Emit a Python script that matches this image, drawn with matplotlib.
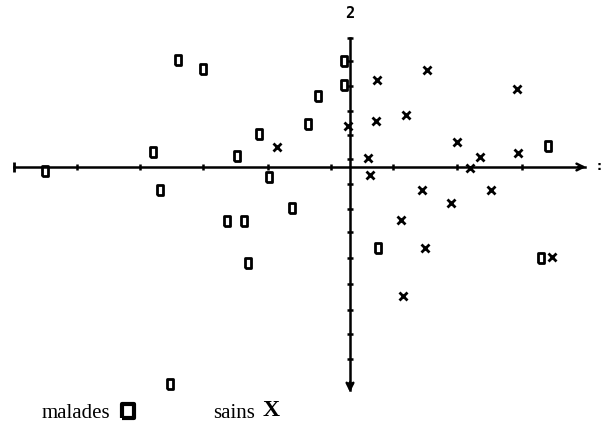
import numpy as np
import matplotlib
matplotlib.use('Agg')
from matplotlib import pyplot as plt

# malades (rectangles "0")
malades_x = [-4.80, -2.71, -2.31, -3.10, -2.99, -1.78, -1.43, -1.28, -0.91, -0.66,
             -0.50, -0.09, -0.09, 3.12, -1.94, -1.67, -1.61, -2.83, 0.44, 3.01]
malades_y = [-0.16, 4.28, 3.92, 0.60, -0.92, 0.44, 1.32, -0.40, -1.64, 1.72,
             2.84, 3.28, 4.24, 0.84, -2.16, -2.16, -3.84, -8.68, -3.24, -3.64]

# sains (croix "X")
sains_x = [-1.15, -0.03, 0.43, 0.41, 1.21, 0.88, 2.63, 1.69, 0.28, 0.31,
           2.05, 1.89, 2.65, 1.13, 1.59, 2.22, 0.80, 1.18, 0.83, 3.18]
sains_y = [0.80, 1.64, 3.48, 1.84, 3.88, 2.08, 3.12, 1.00, 0.36, -0.32,
           0.40, -0.04, 0.56, -0.92, -1.44, -0.92, -2.12, -3.24, -5.16, -3.60]

# graduations des axes
ticks_h = [-4.30, -3.31, -2.31, -1.29, -0.30, 0.68, 1.69, 2.71]
ticks_v = [4.24, 3.24, 2.24, 1.28, 0.32, -0.68, -1.68, -2.60, -3.64,
           -4.68, -5.72, -6.68, -7.68, -8.64]

fig = plt.figure(figsize=(6.02, 4.29), dpi=100)
ax = fig.add_axes([0, 0, 1, 1])
ax.set_xlim(-350 / 63.5, 252 / 63.5)
ax.set_ylim(-262 / 25, 167 / 25)
ax.axis('off')

# axes
ax.plot([-5.29, 3.70], [0, 0], color='black', lw=1.8)
ax.annotate('', xy=(3.76, 0), xytext=(3.55, 0),
            arrowprops=dict(arrowstyle='->', lw=1.8, color='black', mutation_scale=12))
ax.plot([0, 0], [5.16, -8.9], color='black', lw=1.8)
ax.annotate('', xy=(0, -9.12), xytext=(0, -8.5),
            arrowprops=dict(arrowstyle='->', lw=1.8, color='black', mutation_scale=12))
ax.plot([-5.29], [0], marker='|', color='black', ms=7, mew=2)
ax.plot(ticks_h, np.zeros(len(ticks_h)), ls='none', marker='|', color='black', ms=5, mew=1.8)
ax.plot(np.zeros(len(ticks_v)), ticks_v, ls='none', marker='_', color='black', ms=5, mew=1.8)
ax.plot([0], [5.16], marker='_', color='black', ms=5, mew=1.8)

ax.text(0, 6.12, '2', ha='center', va='center', fontsize=11, fontweight='bold',
        family='DejaVu Sans Mono')
ax.text(3.93, 0, ':', ha='center', va='center', fontsize=9, fontweight='bold')

rect = [(-0.6, -1), (0.6, -1), (0.6, 1), (-0.6, 1), (-0.6, -1)]
ax.plot(malades_x, malades_y, ls='none', marker=rect, ms=6.5, mfc='none',
        mec='black', mew=2.0)
ax.plot(sains_x, sains_y, ls='none', marker='x', ms=6, mec='black', mew=2.0)

# legende
fig.text(42 / 602, 1 - 413 / 429, 'malades', family='Liberation Serif', fontsize=15,
         ha='left', va='center')
fig.text(213 / 602, 1 - 413 / 429, 'sains', family='Liberation Serif', fontsize=15,
         ha='left', va='center')
lg = fig.add_axes([0, 0, 1, 1], facecolor='none')
lg.set_xlim(0, 602)
lg.set_ylim(429, 0)
lg.axis('off')
square = [(-0.85, -1), (0.85, -1), (0.85, 1), (-0.85, 1), (-0.85, -1)]
lg.plot([128], [411], marker=square, ms=10, mfc='none', mec='black', mew=3.0)
lg.text(271, 410, 'X', family='Liberation Serif', fontweight='bold', fontsize=17,
        ha='center', va='center')

fig.savefig('out.png', dpi=100)
